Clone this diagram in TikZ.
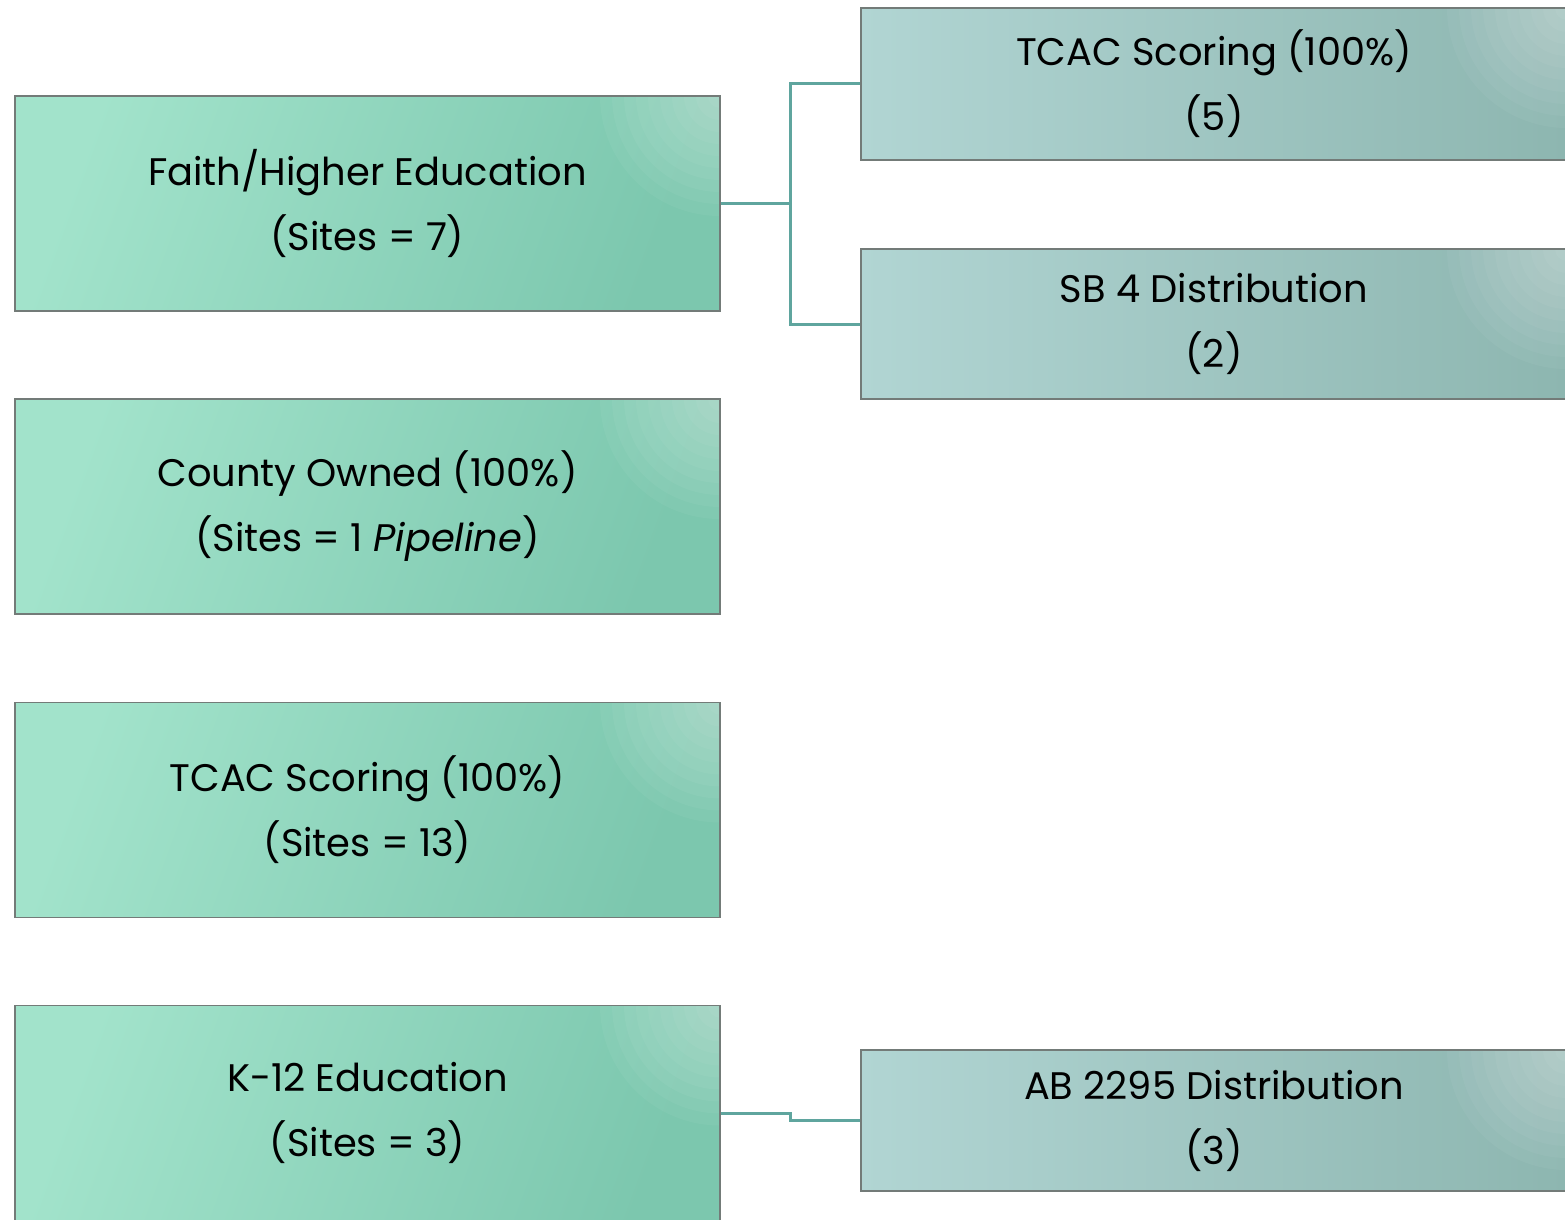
\documentclass[tikz,border=0pt]{standalone}
\usepackage{fontspec}
\setmainfont{Poppins}
\definecolor{mintA}{HTML}{A2E3CB}
\definecolor{mintB}{HTML}{7CC7AE}
\definecolor{tealA}{HTML}{B1D5D3}
\definecolor{tealB}{HTML}{8DB6B0}
\definecolor{edge}{HTML}{737B78}
\definecolor{conncol}{HTML}{5FA59E}
\tikzset{
  box/.style={draw=edge, line width=0.7pt, align=center, inner sep=0pt,
    font=\fontsize{19.2pt}{32.5pt}\selectfont, text=black,
    path picture={\foreach \r in {60,54,...,6}{\fill[white, fill opacity=0.045]
      (path picture bounding box.north east) circle (\r pt);}}},
  leftbox/.style={box, minimum width=352.5pt, minimum height=107.5pt,
    left color=mintA, right color=mintB, shading angle=70},
  rightbox/.style={box, minimum width=353pt,
    left color=tealA, right color=tealB},
  conn/.style={draw=conncol, line width=1.5pt}
}
\begin{document}
\begin{tikzpicture}[x=0.5pt,y=-0.5pt]
\useasboundingbox (0,0) rectangle (1565,1220);
\clip (0,0) rectangle (1565,1220);
\node[leftbox] (L1) at (367.5,203.5) {Faith/Higher Education\\(Sites = 7)};
\node[leftbox] (L2) at (367.5,506.5) {County Owned (100\%)\\(Sites = 1 \textit{Pipeline})};
\node[leftbox] (L3) at (367.5,810) {TCAC Scoring (100\%)\\(Sites = 13)};
\node[leftbox] (L4) at (367.5,1113) {K-12 Education\\(Sites = 3)};
\node[rightbox, minimum height=76pt] (R1) at (1214,84) {TCAC Scoring (100\%)\\(5)};
\node[rightbox, minimum height=75pt] (R2) at (1214,324) {SB 4 Distribution\\(2)};
\node[rightbox, minimum height=70.5pt] (R3) at (1214,1120.5) {AB 2295 Distribution\\(3)};
\coordinate (J1) at (790,203.5);
\coordinate (J2) at (790,1113);
\draw[conn] (L1.east) -- (J1) |- (R1.west);
\draw[conn] (J1) |- (R2.west);
\draw[conn] (L4.east) -- (J2) |- (R3.west);
\end{tikzpicture}
\end{document}
